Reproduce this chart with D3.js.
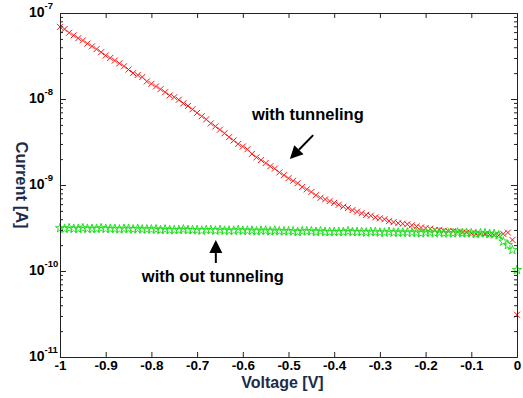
<!DOCTYPE html>
<html>
<head>
<meta charset="utf-8">
<script src="https://cdn.jsdelivr.net/npm/d3@7"></script>
<style>
  body { margin: 0; background: #fff; }
  text { font-family: "Liberation Sans", Arial, sans-serif; font-weight: bold; }
</style>
</head>
<body>
<div id="chart"></div>
<script>
// sweep voltage [V]
const voltage = [
  -1.00, -0.99, -0.98, -0.97, -0.96, -0.95, -0.94, -0.93, -0.92, -0.91,
  -0.90, -0.89, -0.88, -0.87, -0.86, -0.85, -0.84, -0.83, -0.82, -0.81,
  -0.80, -0.79, -0.78, -0.77, -0.76, -0.75, -0.74, -0.73, -0.72, -0.71,
  -0.70, -0.69, -0.68, -0.67, -0.66, -0.65, -0.64, -0.63, -0.62, -0.61,
  -0.60, -0.59, -0.58, -0.57, -0.56, -0.55, -0.54, -0.53, -0.52, -0.51,
  -0.50, -0.49, -0.48, -0.47, -0.46, -0.45, -0.44, -0.43, -0.42, -0.41,
  -0.40, -0.39, -0.38, -0.37, -0.36, -0.35, -0.34, -0.33, -0.32, -0.31,
  -0.30, -0.29, -0.28, -0.27, -0.26, -0.25, -0.24, -0.23, -0.22, -0.21,
  -0.20, -0.19, -0.18, -0.17, -0.16, -0.15, -0.14, -0.13, -0.12, -0.11,
  -0.10, -0.09, -0.08, -0.07, -0.06, -0.05, -0.04, -0.03, -0.02, -0.01,
  0.00
];

// current with tunneling [A] (red crosses)
const currentTunneling = [
  6.9e-8, 6.5e-8, 5.9e-8, 5.5e-8, 5.1e-8, 4.8e-8, 4.4e-8, 4.1e-8, 3.8e-8, 3.5e-8,
  3.2e-8, 3.0e-8, 2.8e-8, 2.6e-8, 2.4e-8, 2.2e-8, 2.0e-8, 1.9e-8, 1.8e-8, 1.6e-8,
  1.5e-8, 1.4e-8, 1.3e-8, 1.2e-8, 1.1e-8, 1.05e-8, 9.8e-9, 8.9e-9, 8.3e-9, 7.6e-9,
  6.9e-9, 6.3e-9, 5.8e-9, 5.2e-9, 4.8e-9, 4.4e-9, 4.0e-9, 3.6e-9, 3.3e-9, 3.0e-9,
  2.8e-9, 2.6e-9, 2.3e-9, 2.1e-9, 1.95e-9, 1.8e-9, 1.65e-9, 1.55e-9, 1.4e-9, 1.3e-9,
  1.2e-9, 1.12e-9, 1.05e-9, 9.5e-10, 8.9e-10, 8.3e-10, 7.6e-10, 7.1e-10, 6.8e-10, 6.5e-10,
  6.2e-10, 5.9e-10, 5.6e-10, 5.4e-10, 5.1e-10, 4.9e-10, 4.7e-10, 4.5e-10, 4.4e-10, 4.2e-10,
  4.1e-10, 4.0e-10, 3.8e-10, 3.7e-10, 3.6e-10, 3.55e-10, 3.5e-10, 3.4e-10, 3.3e-10, 3.2e-10,
  3.15e-10, 3.1e-10, 3.0e-10, 3.0e-10, 2.95e-10, 2.9e-10, 2.9e-10, 2.85e-10, 2.8e-10, 2.8e-10,
  2.75e-10, 2.7e-10, 2.7e-10, 2.7e-10, 2.65e-10, 2.6e-10, 2.6e-10, 2.7e-10, 2.8e-10, 2.3e-10,
  3.1e-11
];

// current without tunneling [A] (green stars)
const currentNoTunneling = [
  3.15e-10, 3.1e-10, 3.15e-10, 3.1e-10, 3.1e-10, 3.15e-10, 3.1e-10, 3.1e-10, 3.1e-10, 3.15e-10,
  3.1e-10, 3.1e-10, 3.1e-10, 3.05e-10, 3.1e-10, 3.1e-10, 3.05e-10, 3.1e-10, 3.05e-10, 3.05e-10,
  3.05e-10, 3.05e-10, 3.0e-10, 3.05e-10, 3.0e-10, 3.0e-10, 3.0e-10, 3.05e-10, 3.0e-10, 3.0e-10,
  3.0e-10, 2.95e-10, 3.0e-10, 3.0e-10, 2.95e-10, 3.0e-10, 2.95e-10, 2.95e-10, 2.95e-10, 3.0e-10,
  2.95e-10, 2.95e-10, 2.95e-10, 2.9e-10, 2.95e-10, 2.95e-10, 2.9e-10, 2.95e-10, 2.9e-10, 2.9e-10,
  2.9e-10, 2.9e-10, 2.85e-10, 2.9e-10, 2.9e-10, 2.9e-10, 2.85e-10, 2.9e-10, 2.85e-10, 2.85e-10,
  2.85e-10, 2.85e-10, 2.85e-10, 2.9e-10, 2.85e-10, 2.85e-10, 2.85e-10, 2.8e-10, 2.85e-10, 2.85e-10,
  2.8e-10, 2.8e-10, 2.85e-10, 2.8e-10, 2.8e-10, 2.8e-10, 2.8e-10, 2.8e-10, 2.8e-10, 2.75e-10,
  2.8e-10, 2.8e-10, 2.75e-10, 2.8e-10, 2.75e-10, 2.75e-10, 2.75e-10, 2.8e-10, 2.75e-10, 2.75e-10,
  2.75e-10, 2.7e-10, 2.75e-10, 2.75e-10, 2.7e-10, 2.7e-10, 2.6e-10, 2.2e-10, 2.0e-10, 1.75e-10,
  1.03e-10
];

// axis ticks
const xTicks = [-1, -0.9, -0.8, -0.7, -0.6, -0.5, -0.4, -0.3, -0.2, -0.1, 0];
const xTickLabels = ["-1", "-0.9", "-0.8", "-0.7", "-0.6", "-0.5", "-0.4", "-0.3", "-0.2", "-0.1", "0"];
const yExponents = [-11, -10, -9, -8, -7];

const W = 523, H = 398;
const margin = {left: 60, right: 6, top: 13, bottom: 41};
const axisColor = "#222";

const svg = d3.select("#chart").append("svg")
  .attr("width", W)
  .attr("height", H)
  .style("background", "#fff");

const x = d3.scaleLinear()
  .domain([-1, 0])
  .range([margin.left, W - margin.right]);

const y = d3.scaleLog()
  .domain([1e-11, 1e-7])
  .range([H - margin.bottom, margin.top]);

const majorY = yExponents.map(e => Math.pow(10, e));
const minorY = y.ticks().filter(v => !majorY.some(m => Math.abs(v - m) / m < 1e-6));

// data marks
const pts = voltage.map((v, i) => ({v: v, red: currentTunneling[i], green: currentNoTunneling[i]}));

const cross = 3;
svg.append("g").selectAll("path")
  .data(pts)
  .enter()
  .append("path")
  .attr("transform", d => "translate(" + x(d.v) + "," + y(d.red) + ")")
  .attr("d", "M" + -cross + "," + -cross + "L" + cross + "," + cross + "M" + -cross + "," + cross + "L" + cross + "," + -cross)
  .attr("fill", "none")
  .attr("stroke", "#ff1010")
  .attr("stroke-width", 1);

const star = d3.symbol().type(d3.symbolStar).size(26);
svg.append("g").selectAll("path")
  .data(pts)
  .enter()
  .append("path")
  .attr("transform", d => "translate(" + x(d.v) + "," + y(d.green) + ")")
  .attr("d", star)
  .attr("fill", "none")
  .attr("stroke", "#22e022")
  .attr("stroke-width", 1);

// axes (MATLAB style box, ticks inward)
const bottom = svg.append("g")
  .attr("transform", "translate(0," + (H - margin.bottom) + ")")
  .call(d3.axisBottom(x).tickValues(xTicks).tickFormat((d, i) => xTickLabels[i]).tickSizeInner(-5).tickSizeOuter(0).tickPadding(3));
bottom.selectAll("text")
  .attr("font-size", 13.5)
  .attr("fill", "#000")
  .style("font-family", "Liberation Sans, Arial, sans-serif")
  .style("font-weight", "bold");

svg.append("g")
  .attr("transform", "translate(0," + margin.top + ")")
  .call(d3.axisTop(x).tickValues(xTicks).tickFormat("").tickSizeInner(-5).tickSizeOuter(0));

svg.append("g")
  .attr("transform", "translate(" + margin.left + ",0)")
  .call(d3.axisLeft(y).tickValues(majorY).tickFormat("").tickSizeInner(-6).tickSizeOuter(0));
svg.append("g")
  .attr("transform", "translate(" + margin.left + ",0)")
  .call(d3.axisLeft(y).tickValues(minorY).tickFormat("").tickSizeInner(-3).tickSizeOuter(0));

svg.append("g")
  .attr("transform", "translate(" + (W - margin.right) + ",0)")
  .call(d3.axisRight(y).tickValues(majorY).tickFormat("").tickSizeInner(-6).tickSizeOuter(0));
svg.append("g")
  .attr("transform", "translate(" + (W - margin.right) + ",0)")
  .call(d3.axisRight(y).tickValues(minorY).tickFormat("").tickSizeInner(-3).tickSizeOuter(0));

svg.selectAll(".domain, .tick line").attr("stroke", axisColor);

// y tick labels as 10^n
const yLab = svg.append("g").selectAll("text")
  .data(yExponents)
  .enter()
  .append("text")
  .attr("x", 29)
  .attr("y", d => y(Math.pow(10, d)) + 4)
  .attr("font-size", 14)
  .attr("fill", "#000");
yLab.append("tspan").text("10");
yLab.append("tspan")
  .attr("dy", -8)
  .attr("font-size", 9.5)
  .text(d => "-" + Math.abs(d));

// axis titles
svg.append("text")
  .attr("x", x(-0.5) - 6)
  .attr("y", 388)
  .attr("text-anchor", "middle")
  .attr("font-size", 16)
  .attr("fill", "#1b2b4b")
  .text("Voltage [V]");

svg.append("text")
  .attr("transform", "translate(16,185) rotate(90)")
  .attr("text-anchor", "middle")
  .attr("font-size", 16.5)
  .attr("fill", "#1b2b4b")
  .text("Current [A]");

// annotations
function arrow(x0, y0, x1, y1) {
  const ang = Math.atan2(y1 - y0, x1 - x0);
  const len = 13, half = 6.5;
  const bx = x1 - len * Math.cos(ang), by = y1 - len * Math.sin(ang);
  svg.append("line")
    .attr("x1", x0).attr("y1", y0).attr("x2", bx).attr("y2", by)
    .attr("stroke", "#000").attr("stroke-width", 2);
  svg.append("path")
    .attr("d", "M" + x1 + "," + y1 +
      "L" + (bx + half * Math.sin(ang)) + "," + (by - half * Math.cos(ang)) +
      "L" + (bx - half * Math.sin(ang)) + "," + (by + half * Math.cos(ang)) + "Z")
    .attr("fill", "#000");
}

svg.append("text")
  .attr("x", x(-0.58))
  .attr("y", y(5.7e-9))
  .attr("font-size", 16.5)
  .attr("fill", "#000")
  .text("with tunneling");
arrow(x(-0.446), y(3.8e-9), x(-0.497), y(2.0e-9));

svg.append("text")
  .attr("x", x(-0.821))
  .attr("y", y(7.45e-11))
  .attr("font-size", 16.5)
  .attr("fill", "#000")
  .text("with out tunneling");
arrow(x(-0.659), y(1.24e-10), x(-0.659), y(2.29e-10));
</script>
</body>
</html>
